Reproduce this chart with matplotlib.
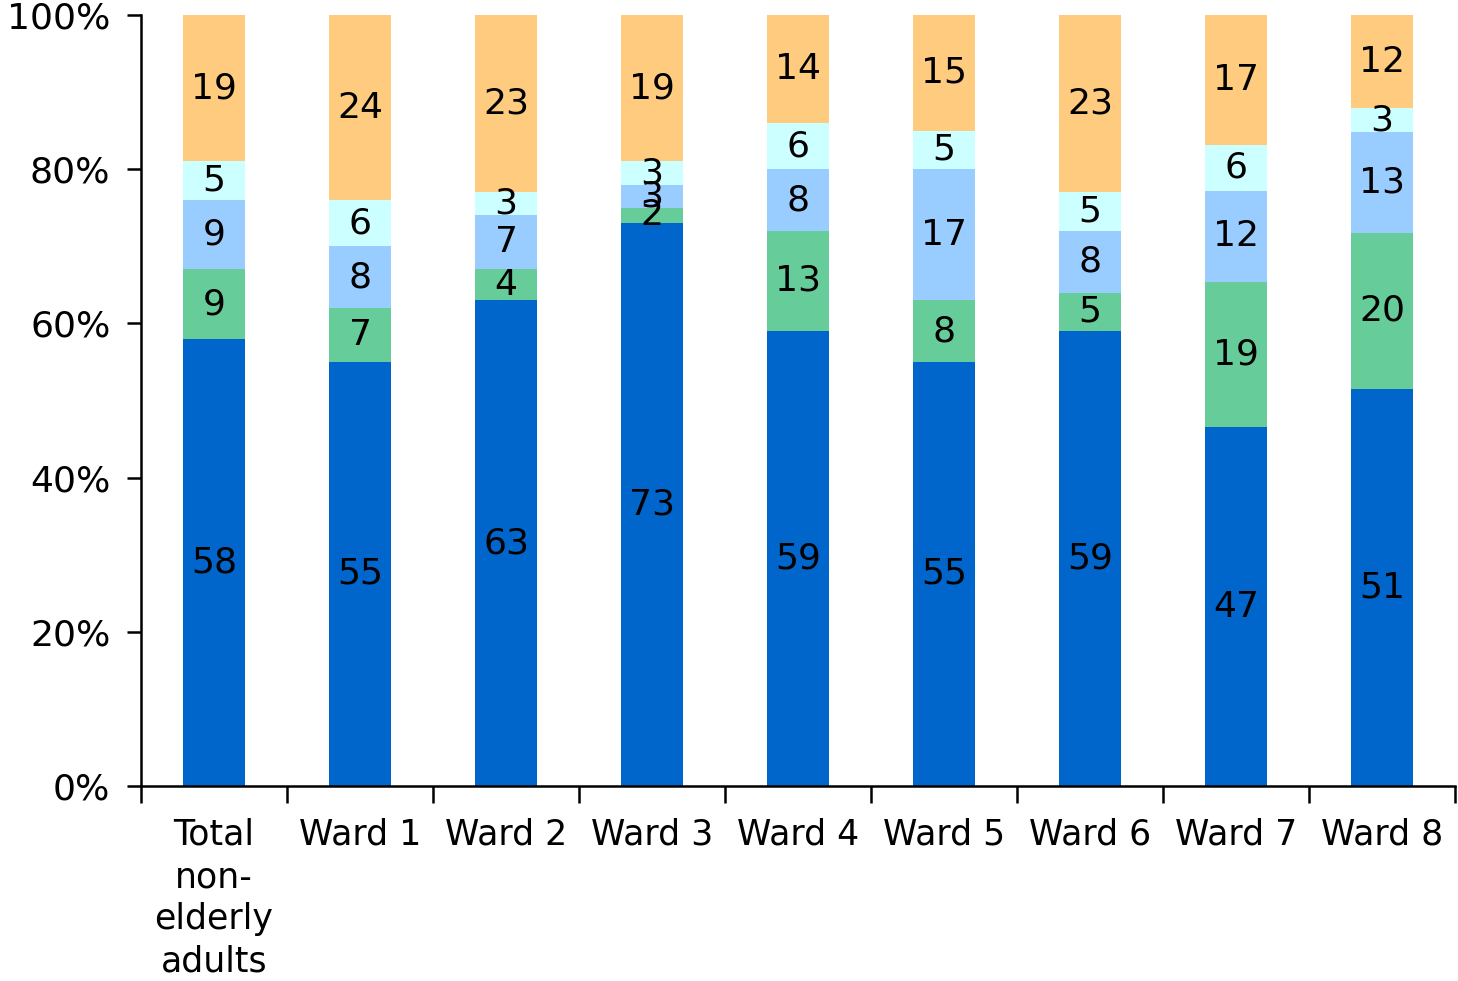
import matplotlib
matplotlib.use("Agg")
import matplotlib.pyplot as plt
import numpy as np

# Stacked shares per ward (percent), bottom to top
categories = ["Total\nnon-\nelderly\nadults", "Ward 1", "Ward 2", "Ward 3", "Ward 4",
              "Ward 5", "Ward 6", "Ward 7", "Ward 8"]
seg1 = [58, 55, 63, 73, 59, 55, 59, 47, 51]
seg2 = [9, 7, 4, 2, 13, 8, 5, 19, 20]
seg3 = [9, 8, 7, 3, 8, 17, 8, 12, 13]
seg4 = [5, 6, 3, 3, 6, 5, 5, 6, 3]
seg5 = [19, 24, 23, 19, 14, 15, 23, 17, 12]

colors = ["#0066CC", "#66CC99", "#99CCFF", "#CCFFFF", "#FFCC7F"]

plt.rcParams['font.family'] = ['DejaVu Sans']
FS = 26

fig = plt.figure(figsize=(14.58, 9.81), dpi=100)
ax = fig.add_axes([0.0967, 0.1988, 0.9013, 0.7859])

series = np.array([seg1, seg2, seg3, seg4, seg5], dtype=float)
totals = series.sum(axis=0)
shares = series / totals * 100

x = np.arange(len(categories))
width = 0.42
bottom = np.zeros(len(categories))
for vals, raw, col in zip(shares, series, colors):
    ax.bar(x, vals, width, bottom=bottom, color=col, linewidth=0)
    for xi, b, h, r in zip(x, bottom, vals, raw):
        ax.text(xi, b + h / 2, "%d" % r, ha="center", va="center",
                fontsize=FS, color="black")
    bottom += vals

ax.set_xlim(-0.5, len(categories) - 0.5)
ax.set_ylim(0, 100)
ax.set_yticks(np.arange(0, 101, 20))
ax.set_yticklabels(["%d%%" % v for v in range(0, 101, 20)], fontsize=FS)

# category labels centred, ticks on the boundaries
ax.set_xticks(x)
ax.set_xticklabels(categories, fontsize=25, linespacing=1.3, va="top")
ax.tick_params(axis="x", which="major", length=0, pad=23)
ax.set_xticks(np.arange(-0.5, len(categories)), minor=True)
ax.tick_params(axis="x", which="minor", length=12, width=1.8, direction="out")
ax.tick_params(axis="y", length=10, width=1.8, direction="out", pad=12)

for s in ["top", "right"]:
    ax.spines[s].set_visible(False)
for s in ["left", "bottom"]:
    ax.spines[s].set_linewidth(1.8)

fig.savefig("out.png", dpi=100)
